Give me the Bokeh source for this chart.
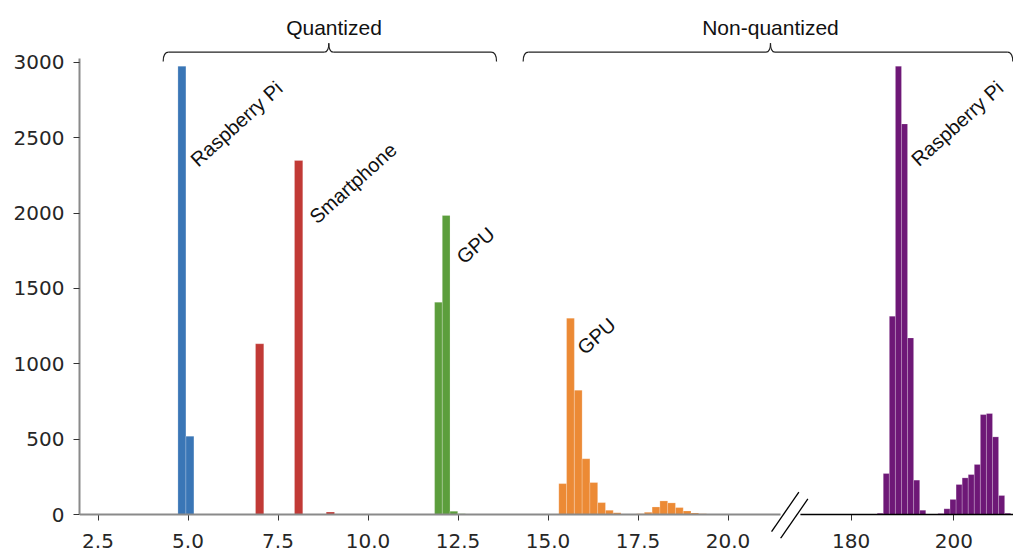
from bokeh.plotting import figure
from bokeh.models import Range1d, FixedTicker, Arrow, ColumnDataSource
from bokeh.core.properties import value
from bokeh.embed import file_html
from bokeh.resources import INLINE

# ---------------- data ----------------
# Quantized, Raspberry Pi (blue)
rpi_q_left = [4.72, 4.942, 5.164, 5.386]
rpi_q_count = [2975, 520, 3, 2]
rpi_q_width = 0.222
# Quantized, Smartphone (red)
phone_left = [6.875, 7.958, 8.84]
phone_count = [1133, 2349, 16]
phone_width = 0.23
# Quantized, GPU (green)
gpu_q_start = 11.85
gpu_q_width = 0.214
gpu_q_count = [1409, 1984, 22, 5, 4, 3, 2, 2, 3, 4, 3, 3, 2, 2, 1, 1]
# Non-quantized, GPU (orange)
gpu_start = 15.30
gpu_width = 0.216
gpu_count = [205, 1303, 825, 370, 212, 79, 28, 12, 4, 3, 5, 15, 50, 90, 77,
             46, 24, 10, 5, 2, 1]
# Non-quantized, Raspberry Pi (purple, right panel)
rpi_start = 185.07
rpi_width = 1.183
rpi_count = [9, 272, 1316, 2975, 2592, 1172, 228, 29, 1, 2, 7, 38, 100, 199,
             243, 265, 332, 663, 670, 515, 126, 9]

y_ticks = [0, 500, 1000, 1500, 2000, 2500, 3000]
left_ticks = [2.5, 5.0, 7.5, 10.0, 12.5, 15.0, 17.5, 20.0]
left_tick_labels = ["2.5", "5.0", "7.5", "10.0", "12.5", "15.0", "17.5", "20.0"]
right_ticks = [180, 200]
right_tick_labels = ["180", "200"]

group_titles = ["Quantized", "Non-quantized"]
device_labels = ["Raspberry Pi", "Smartphone", "GPU", "GPU"]
device_label_x = [5.153, 8.458, 12.54, 15.90]
device_label_y = [2336, 1957, 1690, 1088]
rpi_label = ["Raspberry Pi"]
rpi_label_x = [192.3]
rpi_label_y = [2338]

# ---------------- layout ----------------
FRAME_W, FRAME_H = 934, 538
PX_L = 36.0      # px per unit, left panel
PX_R = 5.13      # px per unit, right panel
PX_Y = 0.1507    # px per count
ZERO_PX = 514    # vertical pixel of the zero line
L0 = 1.986
L1 = L0 + FRAME_W / PX_L
R0 = 180 - 771.7 / PX_R
R1 = R0 + FRAME_W / PX_R
Y0 = -(FRAME_H - ZERO_PX) / PX_Y
Y1 = ZERO_PX / PX_Y
LEFT_END = 21.46      # end of left panel
RIGHT_START = 170.1   # start of right panel
GAP = FRAME_H - ZERO_PX


def to_left(v):
    return L0 + (v - R0) * (L1 - L0) / (R1 - R0)


p = figure(frame_width=FRAME_W, frame_height=FRAME_H,
           x_range=Range1d(L0, L1), y_range=Range1d(Y0, Y1),
           output_backend="svg", toolbar_location=None,
           min_border_left=79, min_border_right=0, min_border_top=0,
           min_border_bottom=0)
p.extra_x_ranges = {"right": Range1d(R0, R1)}
p.xgrid.visible = False
p.ygrid.visible = False
p.outline_line_color = None
p.background_fill_color = "white"
p.border_fill_color = "white"

bar_style = dict(line_color="white", line_alpha=0.35, line_width=0.6)


def bars(lefts, width, counts, color, **kw):
    src = ColumnDataSource(dict(left=lefts, right=[l + width for l in lefts],
                                top=counts, bottom=[0] * len(counts)))
    p.quad(left="left", right="right", top="top", bottom="bottom", source=src,
           fill_color=color, **bar_style, **kw)


bars(rpi_q_left, rpi_q_width, rpi_q_count, "#3a76b6")
bars(phone_left, phone_width, phone_count, "#c13a36")
bars([gpu_q_start + i * gpu_q_width for i in range(len(gpu_q_count))],
     gpu_q_width, gpu_q_count, "#5c9e3c")
bars([gpu_start + i * gpu_width for i in range(len(gpu_count))],
     gpu_width, gpu_count, "#ec8a35")
bars([rpi_start + i * rpi_width for i in range(len(rpi_count))],
     rpi_width, rpi_count, "#6e1877", x_range_name="right")

# axes (x ticks drawn at the zero line, which sits GAP px above frame bottom)
xa = p.xaxis[0]
all_ticks = left_ticks + [to_left(v) for v in right_ticks]
all_labels = left_tick_labels + right_tick_labels
xa.ticker = FixedTicker(ticks=all_ticks)
xa.major_label_overrides = {t: s for t, s in zip(all_ticks, all_labels)}
xa.axis_line_color = None
xa.major_tick_in = GAP
xa.major_tick_out = -(GAP - 6)
xa.minor_tick_line_color = None
xa.major_tick_line_color = "#333333"
xa.major_label_text_font = "DejaVu Sans"
xa.major_label_text_font_size = "20px"
xa.major_label_text_color = "#262626"
xa.major_label_standoff = -5

ya = p.yaxis[0]
ya.ticker = FixedTicker(ticks=y_ticks)
ya.bounds = (0, 3025)
ya.axis_line_color = "#8a8a8a"
ya.axis_line_width = 2
ya.major_tick_out = 6
ya.major_tick_in = 0
ya.minor_tick_line_color = None
ya.major_tick_line_color = "#333333"
ya.major_label_text_font = "DejaVu Sans"
ya.major_label_text_font_size = "20px"
ya.major_label_text_color = "#262626"
ya.major_label_standoff = 9

# baselines of the two panels and the break marks
p.add_layout(Arrow(end=None, x_start=L0, y_start=0, x_end=LEFT_END, y_end=0,
                   line_color="#8a8a8a", line_width=2))
p.add_layout(Arrow(end=None, x_start=RIGHT_START, y_start=0, x_end=R1, y_end=0,
                   line_color="black", line_width=1.4, x_range_name="right"))
brk = 27.3 / PX_L
for x0 in (21.21, 21.46):
    p.add_layout(Arrow(end=None, x_start=x0, y_start=-113 - (x0 - 21.21) * 180,
                       x_end=x0 + brk, y_end=148 - (x0 - 21.21) * 180,
                       line_color="black", line_width=1.3))

# braces
Y_LINE, Y_END, Y_TIP = 3068, 3006, 3127
DXH = 5.5 / PX_L
DXP = 4.5 / PX_L
qx0, qy0, qx1, qy1, qcx, qcy = [], [], [], [], [], []
sx0, sy0, sx1, sy1 = [], [], [], []
for xa_, xb_, xc_ in [(4.311, 13.57, 8.911), (14.31, L1 - 0.02, 21.18)]:
    for (a, b, c, d, e, f) in [
        (xa_, Y_END, xa_ + DXH, Y_LINE, xa_, Y_LINE),
        (xc_ - DXP, Y_LINE, xc_, Y_TIP, xc_, Y_LINE),
        (xc_, Y_TIP, xc_ + DXP, Y_LINE, xc_, Y_LINE),
        (xb_ - DXH, Y_LINE, xb_, Y_END, xb_, Y_LINE),
    ]:
        qx0.append(a); qy0.append(b); qx1.append(c); qy1.append(d)
        qcx.append(e); qcy.append(f)
    sx0 += [xa_ + DXH, xc_ + DXP]
    sx1 += [xc_ - DXP, xb_ - DXH]
    sy0 += [Y_LINE, Y_LINE]
    sy1 += [Y_LINE, Y_LINE]
p.quadratic(x0=qx0, y0=qy0, x1=qx1, y1=qy1, cx=qcx, cy=qcy,
            line_color="#222222", line_width=1.2)
p.segment(x0=sx0, y0=sy0, x1=sx1, y1=sy1, line_color="#222222", line_width=1.2)

# titles
p.text(x=[9.056, 21.18], y=[3233, 3233], text=group_titles,
       text_align="center", text_baseline="alphabetic",
       text_font=value("Liberation Sans"), text_font_size="21px",
       text_color="#111111")

# device labels
lab_style = dict(angle=0.733, text_align="left", text_baseline="alphabetic",
                 text_font=value("Liberation Sans"), text_font_size="20px",
                 text_color="#111111")
p.text(x=device_label_x, y=device_label_y, text=device_labels, **lab_style)
p.text(x=rpi_label_x, y=rpi_label_y, text=rpi_label, x_range_name="right",
       **lab_style)

open("out.html", "w").write(file_html(p, INLINE))
